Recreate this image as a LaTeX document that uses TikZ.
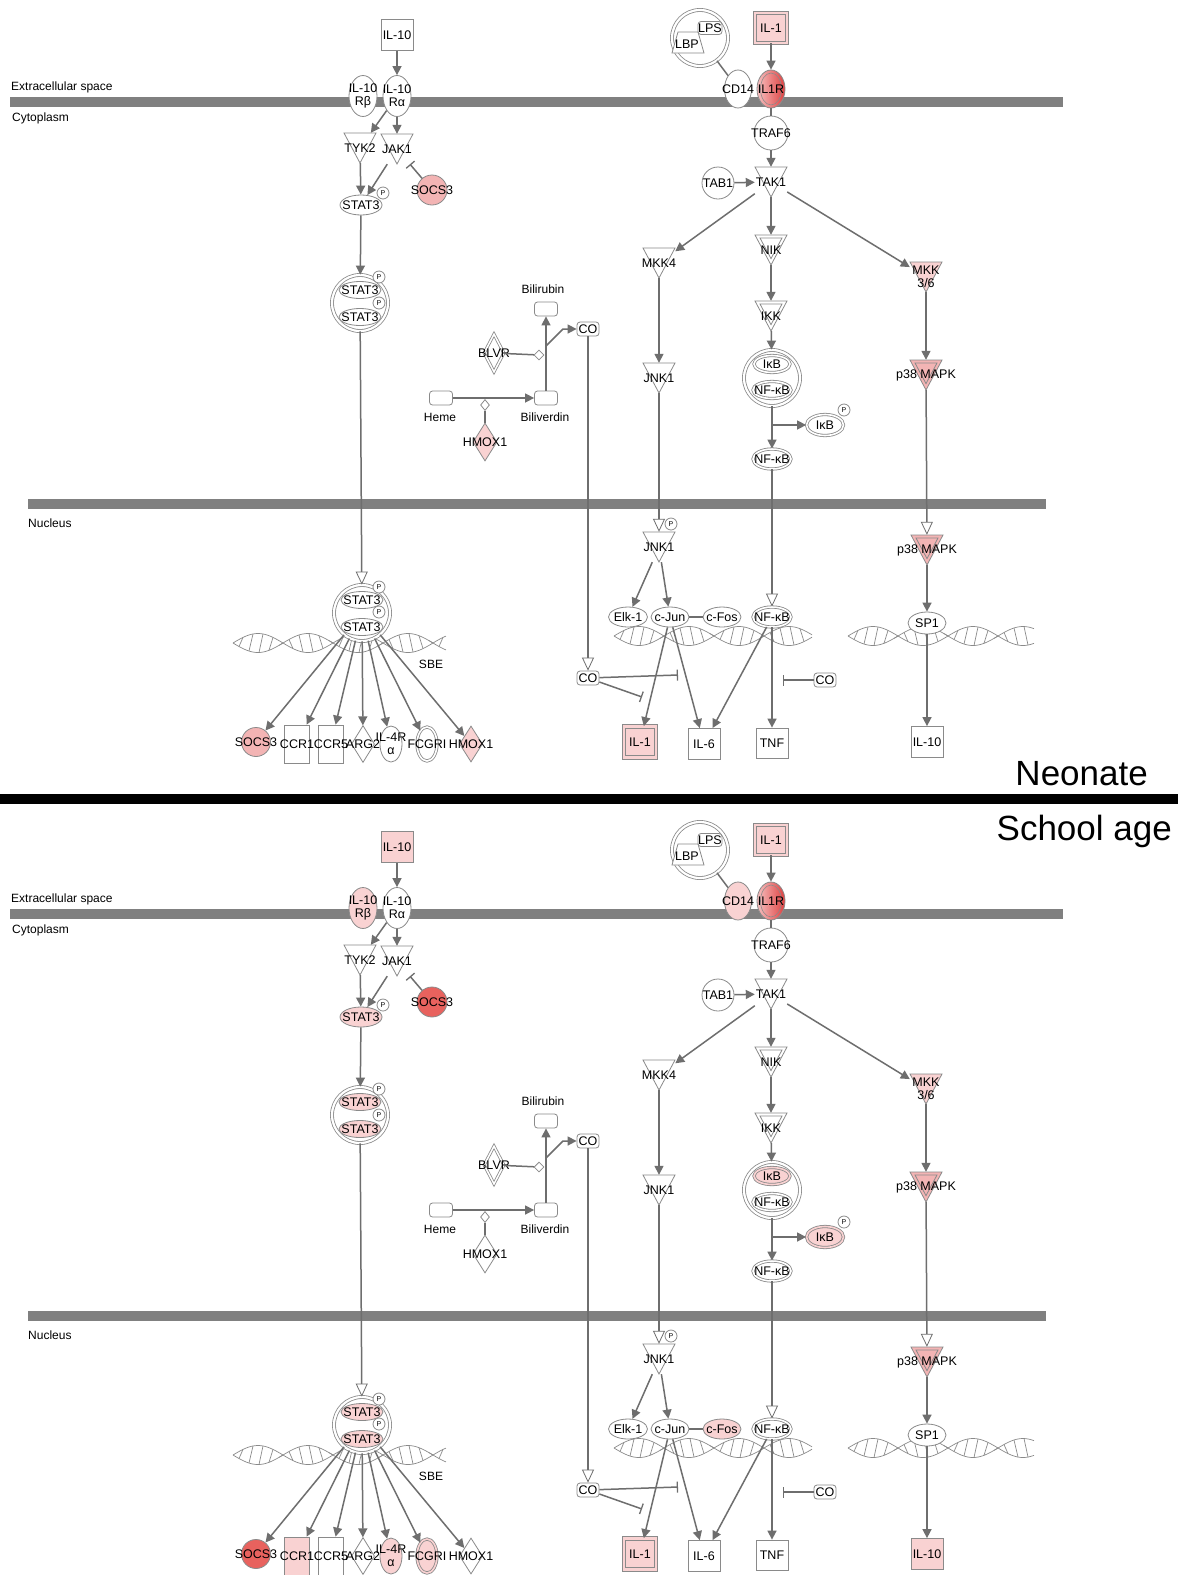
\documentclass[tikz,border=0pt]{standalone}
\usepackage{fontspec}
\setmainfont{Liberation Sans}
\usetikzlibrary{shapes.geometric,arrows.meta}
\definecolor{lc}{HTML}{6E6E6E}
\definecolor{bc}{HTML}{8A8A8A}
\definecolor{memb}{HTML}{808080}
\definecolor{pkA}{HTML}{F9D2D2}
\definecolor{pkB}{HTML}{F3B4B4}
\definecolor{rdA}{HTML}{E8625E}
\definecolor{irL}{HTML}{F6C0C0}
\definecolor{irR}{HTML}{DE4040}
\newcommand\lab{\fontsize{12.5}{13}\selectfont}
\newcommand\slab{\fontsize{12}{13}\selectfont}
\tikzset{
  ln/.style={draw=lc, line width=1.5pt},
  act/.style={ln, -{Triangle[length=9pt,width=9pt]}},
  trl/.style={ln, -{Triangle[length=13pt,width=12pt,fill=white,line width=0.8pt]}},
  inh/.style={ln, -{Bar[width=11pt,line width=1.3pt]}},
  bd/.style={draw=bc, line width=0.8pt},
  lbl/.style={font=\lab, inner sep=0pt, text=black, align=center},
  txt/.style={label={[lbl]center:{#1}}},
  sq/.style={bd, rectangle, inner sep=0pt, font=\lab, minimum width=32pt, minimum height=31pt, fill=white},
  dsq/.style={sq, fill=#1, double=#1, double distance=2.5pt},
  rbox/.style={bd, rectangle, rounded corners=3pt, inner sep=0pt, minimum width=23pt, minimum height=14pt, fill=white, font=\lab},
  ell/.style={bd, ellipse, inner sep=0pt, fill=white},
  dell/.style={ell, fill=#1, double=#1, double distance=1.6pt},
  cir/.style={bd, circle, inner sep=0pt, fill=white},
  dcir/.style={bd, circle, inner sep=0pt, fill=white, double=white, double distance=2.2pt},
  dmd/.style={bd, diamond, inner sep=0pt, fill=white},
  pc/.style={bd, circle, inner sep=0pt, minimum size=12pt, fill=white, font=\fontsize{7}{7}\selectfont},
  tribox/.style={rectangle, inner sep=0pt, minimum width=32pt, minimum height=30pt},
  hx/.style={draw=bc, line width=0.7pt},
}
\newcommand\tri[5]{%
  \node[tribox] (#1) at (#2,#3) {};
  \filldraw[bd, fill=#4] (#2-16,#3-15) -- (#2+16,#3-15) -- (#2,#3+15) -- cycle;
  \node[lbl] (#1-t) at (#2,#3) {#5};
}
\newcommand\dtri[5]{%
  \node[tribox] (#1) at (#2,#3) {};
  \filldraw[bd, fill=#4] (#2-16,#3-15) -- (#2+16,#3-15) -- (#2,#3+15) -- cycle;
  \draw[bd] (#2-11,#3-12) -- (#2+11,#3-12) -- (#2,#3+8.6) -- cycle;
  \node[lbl] (#1-t) at (#2,#3) {#5};
}
\newcommand\helix[4]{%
  \draw[hx] plot[domain=#1:#2,samples=120,smooth] (\x,{#3+9.5*sin(3.6*(\x-#1))});
  \draw[hx] plot[domain=#1:#2,samples=120,smooth] (\x,{#3-9.5*sin(3.6*(\x-#1))});
  \foreach \hk [evaluate=\hk as \hxa using #1+6+10*\hk, evaluate=\hk as \hxb using #1+10+10*\hk] in {0,...,#4}
    \draw[hx] (\hxa,{#3+9.5*sin(3.6*(\hxa-#1))}) -- (\hxb,{#3-9.5*sin(3.6*(\hxb-#1))});
}
\newcommand\drawpanel{%
  % membranes
  \fill[memb] (10,97) rectangle (1063,107);
  \fill[memb] (28,499) rectangle (1046,509);
  \node[font=\slab,anchor=west,inner sep=0pt] (lext) at (11,87) {Extracellular space};
  \node[font=\slab,anchor=west,inner sep=0pt] (lcyt) at (12,118) {Cytoplasm};
  \node[font=\slab,anchor=west,inner sep=0pt] (lnuc) at (28,523) {Nucleus};
  % DNA
  \helix{233}{446}{643}{20}
  \helix{614}{812}{636}{18}
  \helix{848}{1034}{636}{17}
  % ---- IL-10 branch
  \node[sq,fill=cIL] (il10) at (397,35) {IL-10};
  \node[ell,minimum width=28pt,minimum height=41pt,fill=cRb,txt={IL-10\\Rβ}] (rb) at (363,96) {};
  \node[ell,minimum width=28pt,minimum height=41pt,txt={IL-10\\Rα}] (ra) at (397,96) {};
  \tri{tyk2}{360}{148}{white}{TYK2}
  \tri{jak1}{397}{149}{white}{JAK1}
  \node[ell,minimum width=42pt,minimum height=20pt,fill=cSt,txt=STAT3] (stc) at (361,205) {};
  \node[pc] (stcp) at (383,193) {P};
  \node[cir,minimum size=30pt,fill=cSo,txt=SOCS3] (soc) at (432,190) {};
  \node[dcir,minimum size=56pt] (dim1) at (360,303) {};
  \node[ell,minimum width=42pt,minimum height=17pt,fill=cSt2,txt=STAT3] (d1a) at (360,290) {};
  \node[ell,minimum width=42pt,minimum height=17pt,fill=cSt2,txt=STAT3] (d1b) at (360,317) {};
  \node[pc] (d1p) at (379,277) {P};
  \node[pc] (d1q) at (379,303) {P};
  % ---- heme branch
  \node[rbox] (heme) at (441,398) {};
  \node[lbl,font=\slab] (hemel) at (440,417) {Heme};
  \node[rbox] (bv) at (546,398) {};
  \node[lbl,font=\slab] (bvl) at (545,417) {Biliverdin};
  \node[rbox] (br) at (546,309) {};
  \node[lbl,font=\slab] (brl) at (543,289) {Bilirubin};
  \node[rbox,minimum width=22pt] (co1) at (588,329) {CO};
  \node[dmd,double=white,double distance=1.5pt,minimum width=20pt,minimum height=38pt,txt=BLVR] (blvr) at (494,353) {};
  \node[dmd,minimum width=24pt,minimum height=38pt,fill=cHc,txt=HMOX1] (hmc) at (485,442) {};
  \node[dmd,minimum width=10pt,minimum height=10pt] (dmA) at (539,355) {};
  \node[dmd,minimum width=9pt,minimum height=11pt] (dmB) at (485,405) {};
  \coordinate (brj) at (546,346);
  \coordinate (brk) at (563,329);
  \node[rbox,minimum width=22pt] (co2) at (588,678) {CO};
  \coordinate (cot1) at (678,675);
  \coordinate (cot2) at (642,697);
  \node[rbox,minimum width=22pt] (co3) at (825,680) {CO};
  \coordinate (cot3) at (783,680);
  % ---- IL-1 branch
  \node[dcir,minimum size=56pt] (lpsx) at (700,38) {};
  \filldraw[bd,fill=white] (672,53) -- (704,53) -- (698,32) -- (678,32) -- cycle;
  \node[lbl] (lbp) at (687,44) {LBP};
  \node[rbox,minimum width=24pt,minimum height=13pt] (lps) at (710,28) {LPS};
  \node[ell,minimum width=27pt,minimum height=38pt,fill=cCD,txt=CD14] (cd14) at (738,89) {};
  \node[ell,minimum width=28pt,minimum height=38pt,left color=irL,right color=irR,
        path picture={\draw[bc,line width=0.6pt] (path picture bounding box.center) ellipse (10.5pt and 16pt);},
        txt=IL1R] (il1r) at (771,89) {};
  \node[dsq=cI1,minimum height=30pt] (il1t) at (771,28) {IL-1};
  \node[cir,minimum size=34pt,txt=TRAF6] (traf6) at (771,133) {};
  \tri{tak1}{771}{182}{white}{TAK1}
  \node[cir,minimum size=32pt,txt=TAB1] (tab1) at (718,183) {};
  \tri{mkk4}{659}{263}{white}{MKK4}
  \dtri{nik}{771}{250}{white}{NIK}
  \tri{mkk36}{926}{277}{cMK}{MKK\\3/6}
  \dtri{ikk}{771}{316}{white}{IKK}
  \node[dcir,minimum size=56pt] (cpx) at (772,378) {};
  \node[dell=cIk,minimum width=36pt,minimum height=17pt,txt=IκB] (ikb) at (772,364) {};
  \node[dell=white,minimum width=38pt,minimum height=17pt,txt=NF-κB] (nfa) at (772,390) {};
  \tri{jnkc}{659}{378}{white}{JNK1}
  \dtri{p38c}{926}{375}{cP}{p38 MAPK}
  \node[dell=cIk,minimum width=37pt,minimum height=21pt,txt=IκB] (ikbp) at (825,425) {};
  \node[pc] (ikbpp) at (844,410) {P};
  \node[dell=white,minimum width=38pt,minimum height=20pt,txt=NF-κB] (nfc) at (772,459) {};
  \coordinate (nfj) at (772,425);
  % ---- nucleus
  \tri{jnkn}{659}{547}{white}{JNK1}
  \node[pc] (jnknp) at (671,524) {P};
  \node[ell,minimum width=39pt,minimum height=20pt,txt=Elk-1] (elk) at (628,617) {};
  \node[ell,minimum width=38pt,minimum height=20pt,txt=c-Jun] (cjun) at (670,617) {};
  \node[ell,minimum width=38pt,minimum height=20pt,fill=cFo,txt=c-Fos] (cfos) at (722,617) {};
  \node[dell=white,minimum width=38pt,minimum height=20pt,txt=NF-κB] (nfn) at (772,617) {};
  \dtri{p38n}{927}{550}{cP}{p38 MAPK}
  \node[ell,minimum width=38pt,minimum height=22pt,txt=SP1] (sp1) at (927,623) {};
  \node[dsq=cI1] (il1n) at (640,742) {IL-1};
  \node[sq] (il6) at (704,744) {IL-6};
  \node[sq,minimum height=30pt] (tnf) at (772,743) {TNF};
  \node[sq,fill=cIn] (il10n) at (927,742) {IL-10};
  \node[dcir,minimum size=56pt] (dim2) at (362,613) {};
  \node[ell,minimum width=42pt,minimum height=17pt,fill=cSt2,txt=STAT3] (d2a) at (362,600) {};
  \node[ell,minimum width=42pt,minimum height=17pt,fill=cSt2,txt=STAT3] (d2b) at (362,627) {};
  \node[pc] (d2p) at (379,587) {P};
  \node[pc] (d2q) at (379,612) {P};
  \node[lbl,font=\slab] (sbe) at (431,664) {SBE};
  \node[cir,minimum size=29pt,fill=cSn,txt=SOCS3] (g1) at (256,742) {};
  \node[bd,rectangle,inner sep=0pt,minimum width=25pt,minimum height=38pt,fill=cC1,txt=CCR1] (g2) at (297,744) {};
  \node[bd,rectangle,inner sep=0pt,minimum width=25pt,minimum height=38pt,fill=white,txt=CCR5] (g3) at (331,744) {};
  \node[dmd,minimum width=23pt,minimum height=37pt,txt=ARG2] (g4) at (363,744) {};
  \node[ell,minimum width=22pt,minimum height=36pt,fill=cI4,txt={IL-4R\\α}] (g5) at (391,744) {};
  \node[dell=cFc,minimum width=20pt,minimum height=34pt,txt=FCGRI] (g6) at (427,744) {};
  \node[dmd,minimum width=23pt,minimum height=36pt,fill=cHn,txt=HMOX1] (g7) at (471,744) {};
  % ---- edges
  \draw[act] (il10) -- (ra);
  \draw[act] (ra) -- (tyk2);
  \draw[act] (ra) -- (jak1);
  \draw[act] (tyk2) -- (stc);
  \draw[act] (jak1) -- (stc);
  \draw[inh] (soc) -- (jak1);
  \draw[act] (stc) -- (dim1);
  \draw[trl] (dim1) -- (dim2);
  \foreach \tg in {g1,g2,g3,g4,g5,g6,g7} \draw[act] (dim2) -- (\tg);
  \draw[act] (heme) -- (bv);
  \draw[act] (bv) -- (br);
  \draw[act] (brj) -- (brk) -- (co1);
  \draw[ln] (blvr) -- (dmA);
  \draw[ln] (dmB) -- (hmc);
  \draw[trl] (co1) -- (co2);
  \draw[inh] (co2) -- (cot1);
  \draw[inh] (co2) -- (cot2);
  \draw[inh] (co3) -- (cot3);
  \draw[ln] (lpsx) -- (cd14);
  \draw[act] (il1t) -- (il1r);
  \draw[ln] (il1r) -- (traf6);
  \draw[act] (traf6) -- (tak1);
  \draw[act] (tab1) -- (tak1);
  \draw[act] (tak1) -- (mkk4);
  \draw[act] (tak1) -- (nik);
  \draw[act] (tak1) -- (mkk36);
  \draw[act] (nik) -- (ikk);
  \draw[act] (ikk) -- (cpx);
  \draw[act] (mkk4) -- (jnkc);
  \draw[act] (mkk36) -- (p38c);
  \draw[act] (cpx) -- (nfc);
  \draw[act] (nfj) -- (ikbp);
  \draw[trl] (jnkc) -- (jnkn);
  \draw[trl] (nfc) -- (nfn);
  \draw[trl] (p38c) -- (p38n);
  \draw[act] (jnkn) -- (elk);
  \draw[act] (jnkn) -- (cjun);
  \draw[ln] (cjun) -- (cfos);
  \draw[act] (cjun) -- (il1n);
  \draw[act] (cjun) -- (il6);
  \draw[act] (nfn) -- (il6);
  \draw[act] (nfn) -- (tnf);
  \draw[act] (p38n) -- (sp1);
  \draw[act] (sp1) -- (il10n);
}
\begin{document}
\begin{tikzpicture}[x=1pt,y=-1pt]
\fill[white] (0,0) rectangle (1178,1575);
\useasboundingbox (0,0) rectangle (1178,1575);
\begin{scope}[name prefix=n-]
  \colorlet{cIL}{white}\colorlet{cRb}{white}\colorlet{cSt}{white}\colorlet{cSo}{pkB}
  \colorlet{cSt2}{white}\colorlet{cCD}{white}\colorlet{cI1}{pkA}\colorlet{cMK}{pkA}
  \colorlet{cIk}{white}\colorlet{cP}{pkB}\colorlet{cHc}{pkA}\colorlet{cFo}{white}
  \colorlet{cIn}{white}\colorlet{cSn}{pkB}\colorlet{cC1}{white}\colorlet{cI4}{white}
  \colorlet{cFc}{white}\colorlet{cHn}{pkA}
  \drawpanel
\end{scope}
\begin{scope}[shift={(0,812)},name prefix=s-]
  \colorlet{cIL}{pkA}\colorlet{cRb}{pkA}\colorlet{cSt}{pkA}\colorlet{cSo}{rdA}
  \colorlet{cSt2}{pkA}\colorlet{cCD}{pkA}\colorlet{cI1}{pkA}\colorlet{cMK}{pkA}
  \colorlet{cIk}{pkA}\colorlet{cP}{pkB}\colorlet{cHc}{white}\colorlet{cFo}{pkA}
  \colorlet{cIn}{pkA}\colorlet{cSn}{rdA}\colorlet{cC1}{pkA}\colorlet{cI4}{pkA}
  \colorlet{cFc}{pkA}\colorlet{cHn}{white}
  \drawpanel
\end{scope}
\fill[black] (0,794) rectangle (1178,804);
\node[font=\fontsize{35}{40}\selectfont,anchor=base east,inner sep=0pt] (neo) at (1148,785) {Neonate};
\node[font=\fontsize{35}{40}\selectfont,anchor=base east,inner sep=0pt] (sch) at (1172,840) {School age};
\end{tikzpicture}
\end{document}
